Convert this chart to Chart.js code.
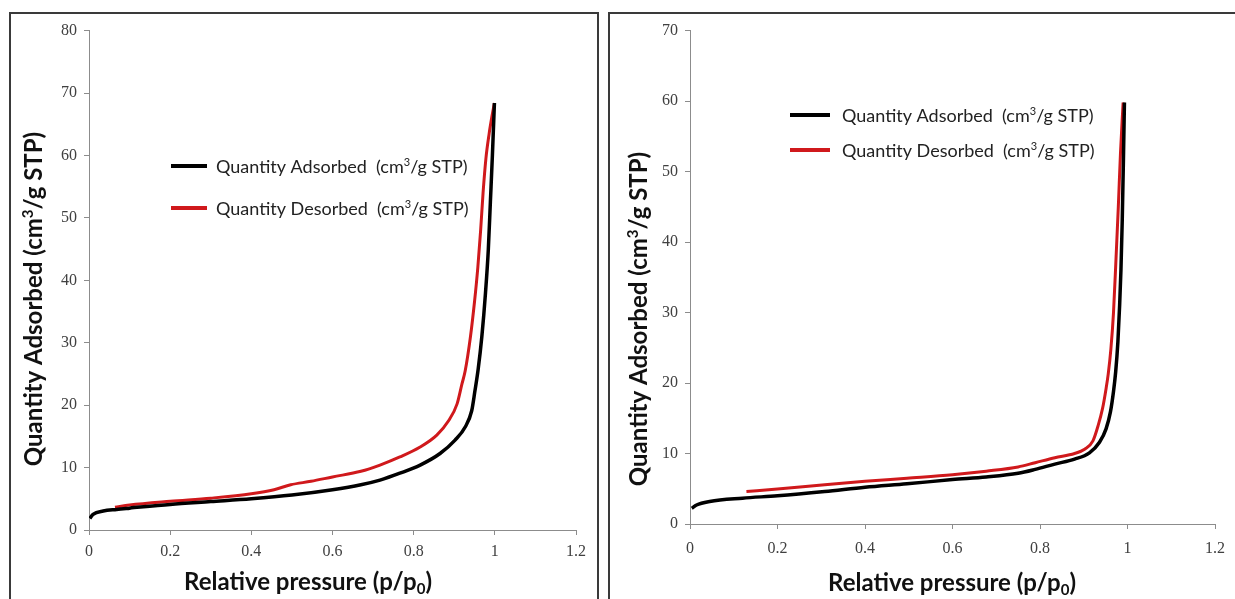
<!DOCTYPE html>
<html>
<head>
<meta charset="utf-8">
<script src="https://cdn.jsdelivr.net/npm/chart.js@4.4.1/dist/chart.umd.min.js"></script>
<style>
  body { margin: 0; background: #fff; width: 1235px; height: 599px; overflow: hidden; position: relative; }
  .panel { position: absolute; border: 2px solid #3a3a3a; box-sizing: border-box; }
  #p1 { left: 9px; top: 12px; width: 590px; height: 640px; }
  #p2 { left: 608px; top: 12px; width: 660px; height: 640px; }
  .box { position: absolute; }
  #b1 { left: 12px; top: 14px; width: 585px; height: 585px; }
  #b2 { left: 610px; top: 14px; width: 625px; height: 585px; }
</style>
</head>
<body>
<div class="panel" id="p1"></div>
<div class="panel" id="p2"></div>
<div class="box" id="b1"><canvas id="c1"></canvas></div>
<div class="box" id="b2"><canvas id="c2"></canvas></div>
<script>
// --- data ---
const xTicks = [0, 0.2, 0.4, 0.6, 0.8, 1, 1.2];
const leftYTicks = [0, 10, 20, 30, 40, 50, 60, 70, 80];
const rightYTicks = [0, 10, 20, 30, 40, 50, 60, 70];

const seriesLabels = ['Quantity Adsorbed  (cm³/g STP)', 'Quantity Desorbed  (cm³/g STP)'];
const xTitleText = 'Relative pressure (p/p₀)';
const yTitleText = 'Quantity Adsorbed (cm³/g STP)';

// left sample
const leftAdsX = [0.002, 0.01, 0.035, 0.068, 0.1, 0.2, 0.3, 0.4, 0.5, 0.6, 0.67, 0.717, 0.766, 0.816, 0.865, 0.902, 0.927, 0.943, 0.951, 0.959, 0.968, 0.977, 0.984, 0.989, 0.994, 0.999];
const leftAdsY = [1.85, 2.5, 3.05, 3.3, 3.5, 4.1, 4.55, 5.0, 5.6, 6.45, 7.25, 8.0, 9.1, 10.4, 12.25, 14.4, 16.5, 19.1, 22.3, 25.8, 31.0, 38.0, 45.0, 52.5, 60.0, 68.4];
const leftDesX = [0.064, 0.1, 0.2, 0.3, 0.4, 0.456, 0.497, 0.547, 0.6, 0.67, 0.717, 0.766, 0.816, 0.857, 0.886, 0.907, 0.919, 0.927, 0.94, 0.95, 0.958, 0.965, 0.971, 0.978, 0.986, 0.993, 0.999];
const leftDesY = [3.65, 4.0, 4.6, 5.1, 5.8, 6.45, 7.25, 7.8, 8.5, 9.4, 10.4, 11.7, 13.3, 15.2, 17.5, 20.2, 23.4, 25.5, 31.0, 36.6, 42.0, 48.0, 54.0, 59.5, 63.5, 66.3, 68.4];

// right sample
const rightAdsX = [0.004, 0.015, 0.045, 0.12, 0.2, 0.308, 0.4, 0.496, 0.6, 0.677, 0.75, 0.789, 0.834, 0.879, 0.913, 0.936, 0.951, 0.961, 0.968, 0.973, 0.978, 0.982, 0.985, 0.988, 0.991, 0.993];
const rightAdsY = [2.24, 2.7, 3.2, 3.67, 4.0, 4.6, 5.2, 5.7, 6.3, 6.67, 7.2, 7.75, 8.5, 9.2, 10.1, 11.6, 13.5, 15.9, 18.8, 21.6, 25.8, 31.0, 36.0, 43.1, 52.7, 59.8];
const rightDesX = [0.129, 0.2, 0.308, 0.4, 0.496, 0.6, 0.677, 0.75, 0.789, 0.834, 0.879, 0.902, 0.921, 0.933, 0.943, 0.951, 0.956, 0.962, 0.968, 0.974, 0.979, 0.984, 0.99];
const rightDesY = [4.6, 4.95, 5.57, 6.05, 6.5, 7.0, 7.5, 8.1, 8.7, 9.4, 10.0, 10.6, 11.8, 14.0, 16.4, 19.2, 21.3, 24.8, 30.0, 38.0, 45.0, 52.7, 59.8];

const pts = (xs, ys) => xs.map((x, i) => ({ x: x, y: ys[i] }));

// split text into runs, ³ -> superscript 3, ₀ -> subscript 0
function runs(str) {
  const out = [];
  let cur = '';
  for (const ch of str) {
    if (ch === '³' || ch === '₀') {
      if (cur) out.push({ t: cur });
      cur = '';
      out.push({ t: ch === '³' ? '3' : '0', sup: ch === '³', sub: ch === '₀' });
    } else cur += ch;
  }
  if (cur) out.push({ t: cur });
  return out;
}

function drawRich(ctx, str, x, y, f, align) {
  const parts = runs(str);
  const fontOf = p => f.weight + ' ' + ((p.sup || p.sub) ? Math.round(f.size * 0.62) : f.size) + 'px ' + f.family;
  let total = 0;
  parts.forEach(p => { ctx.font = fontOf(p); p.w = ctx.measureText(p.t).width; total += p.w; });
  let cx = align === 'center' ? x - total / 2 : x;
  ctx.textAlign = 'left';
  ctx.textBaseline = 'middle';
  parts.forEach(p => {
    ctx.font = fontOf(p);
    let dy = 0;
    if (p.sup) dy = -f.size * 0.26;
    if (p.sub) dy = f.size * 0.28;
    ctx.fillText(p.t, cx, y + dy);
    cx += p.w;
  });
}

const decor = {
  id: 'decor',
  afterDraw(chart, args, o) {
    const ctx = chart.ctx;
    ctx.save();
    ctx.fillStyle = '#111';
    drawRich(ctx, xTitleText, o.xTitle[0], o.xTitle[1], { family: 'Lato, sans-serif', size: 24, weight: 'bold' }, 'center');
    ctx.save();
    ctx.translate(o.yTitle[0], o.yTitle[1]);
    ctx.rotate(-Math.PI / 2);
    drawRich(ctx, yTitleText, 0, 0, { family: 'Lato, sans-serif', size: 24, weight: 'bold' }, 'center');
    ctx.restore();
    // legend
    const lf = { family: 'Lato, sans-serif', size: 18, weight: 'normal' };
    chart.data.datasets.forEach((ds, i) => {
      const ly = o.legend.y + i * o.legend.gap;
      ctx.strokeStyle = ds.borderColor;
      ctx.lineWidth = 4;
      ctx.beginPath();
      ctx.moveTo(o.legend.x1, ly);
      ctx.lineTo(o.legend.x2, ly);
      ctx.stroke();
      ctx.fillStyle = '#222';
      drawRich(ctx, ds.label, o.legend.tx, ly + 1, lf, 'left');
    });
    ctx.restore();
  }
};

function makeChart(id, ads, des, yMax, yTicks, lay) {
  const axisGrid = { display: true, drawOnChartArea: false, drawTicks: true, tickLength: 5, color: '#8c8c8c' };
  return new Chart(document.getElementById(id), {
    type: 'line',
    data: {
      datasets: [
        { label: seriesLabels[0], data: ads, borderColor: '#000000', borderWidth: 3.5, pointRadius: 0, cubicInterpolationMode: 'monotone' },
        { label: seriesLabels[1], data: des, borderColor: '#d0191c', borderWidth: 3, pointRadius: 0, cubicInterpolationMode: 'monotone' }
      ]
    },
    options: {
      responsive: true,
      maintainAspectRatio: false,
      animation: false,
      layout: { padding: { top: lay.top, right: lay.right, left: 0, bottom: 0 } },
      plugins: {
        legend: { display: false },
        tooltip: { enabled: false },
        decor: lay.decor
      },
      scales: {
        x: {
          type: 'linear', min: 0, max: 1.2,
          afterBuildTicks: s => { s.ticks = xTicks.map(v => ({ value: v })); },
          afterFit: s => { s.height = lay.xh; },
          grid: axisGrid,
          border: { display: true, color: '#8c8c8c', width: 1 },
          ticks: { font: { family: 'Liberation Serif', size: 16 }, color: '#404040', padding: lay.xpad, maxRotation: 0, callback: v => String(+v.toFixed(1)) }
        },
        y: {
          type: 'linear', min: 0, max: yMax,
          afterBuildTicks: s => { s.ticks = yTicks.map(v => ({ value: v })); },
          afterFit: s => { s.width = lay.yw; },
          grid: axisGrid,
          border: { display: true, color: '#8c8c8c', width: 1 },
          ticks: { font: { family: 'Liberation Serif', size: 16 }, color: '#404040', padding: 7 }
        }
      }
    },
    plugins: [decor]
  });
}

makeChart('c1', pts(leftAdsX, leftAdsY), pts(leftDesX, leftDesY), 80, leftYTicks, {
  top: 13, right: 21, xh: 69, yw: 77, xpad: 7,
  decor: { xTitle: [296, 568], yTitle: [22, 285], legend: { x1: 159, x2: 195, tx: 204, y: 152, gap: 42 } }
});

makeChart('c2', pts(rightAdsX, rightAdsY), pts(rightDesX, rightDesY), 70, rightYTicks, {
  top: 12, right: 12, xh: 75, yw: 80, xpad: 10,
  decor: { xTitle: [342, 569], yTitle: [29, 305], legend: { x1: 180, x2: 220, tx: 232, y: 101, gap: 35 } }
});
</script>
</body>
</html>
